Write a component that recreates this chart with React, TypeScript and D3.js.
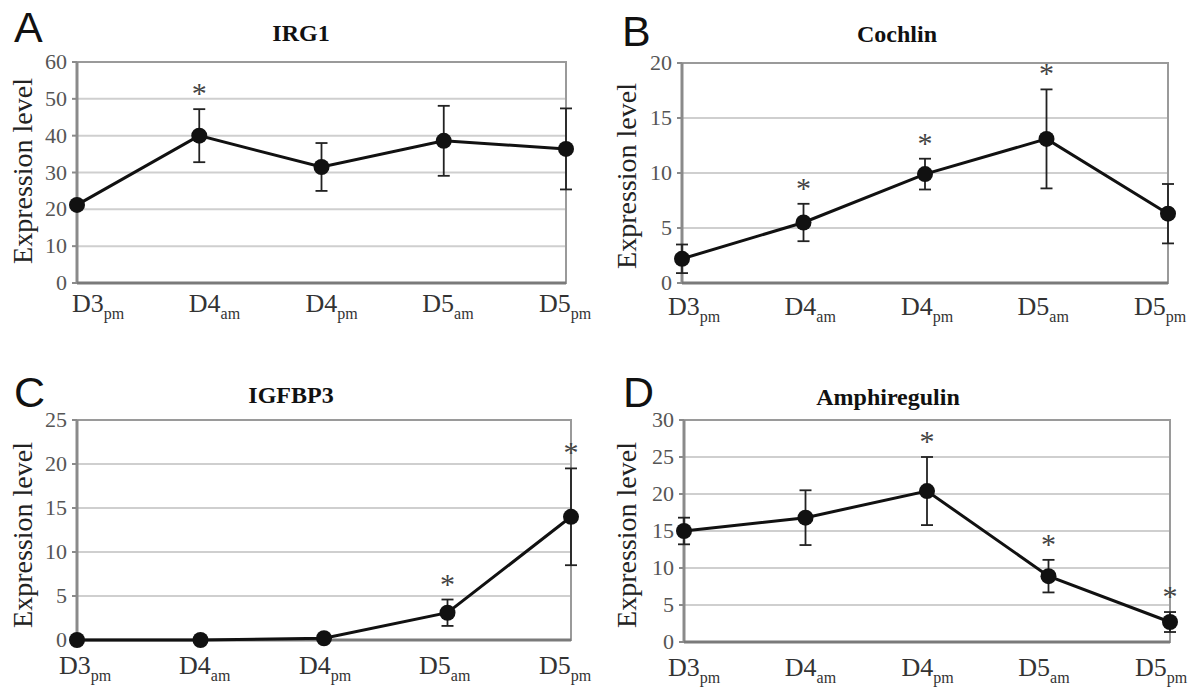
import React from 'react';
import * as d3 from 'd3';

const categories = ['D3pm', 'D4am', 'D4pm', 'D5am', 'D5pm'];
const labelMain = ['D3', 'D4', 'D4', 'D5', 'D5'];
const labelSub = ['pm', 'am', 'pm', 'am', 'pm'];

const irg1Mean = [21.2, 40.0, 31.5, 38.6, 36.4];
const irg1Err = [0.6, 7.2, 6.5, 9.5, 11.0];
const irg1Sig = [false, true, false, false, false];
const irg1Ticks = [0, 10, 20, 30, 40, 50, 60];

const cochlinMean = [2.2, 5.5, 9.9, 13.1, 6.3];
const cochlinErr = [1.3, 1.7, 1.4, 4.5, 2.7];
const cochlinSig = [false, true, true, true, false];
const cochlinTicks = [0, 5, 10, 15, 20];

const igfbp3Mean = [0.0, 0.0, 0.2, 3.1, 14.0];
const igfbp3Err = [0.0, 0.0, 0.1, 1.5, 5.5];
const igfbp3Sig = [false, false, false, true, true];
const igfbp3Ticks = [0, 5, 10, 15, 20, 25];

const amphiMean = [15.0, 16.8, 20.4, 8.9, 2.7];
const amphiErr = [1.8, 3.7, 4.6, 2.2, 1.35];
const amphiSig = [false, false, true, true, true];
const amphiTicks = [0, 5, 10, 15, 20, 25, 30];

const panels = [
  { letter: 'A', title: 'IRG1', mean: irg1Mean, err: irg1Err, sig: irg1Sig, ticks: irg1Ticks },
  { letter: 'B', title: 'Cochlin', mean: cochlinMean, err: cochlinErr, sig: cochlinSig, ticks: cochlinTicks },
  { letter: 'C', title: 'IGFBP3', mean: igfbp3Mean, err: igfbp3Err, sig: igfbp3Sig, ticks: igfbp3Ticks },
  { letter: 'D', title: 'Amphiregulin', mean: amphiMean, err: amphiErr, sig: amphiSig, ticks: amphiTicks },
];

const layouts = [
  { left: 77, right: 566, top: 62, bottom: 283, lo: -5, hi: -27, labY: 312, titleX: 301, titleY: 41, letX: 14, letY: 42, ylabX: 32, ylabY: 171 },
  { left: 682, right: 1168, top: 63, bottom: 283, lo: -14, hi: -34, labY: 315, titleX: 897, titleY: 42, letX: 622, letY: 46, ylabX: 636, ylabY: 176 },
  { left: 77, right: 571, top: 420, bottom: 640, lo: -18, hi: -32, labY: 674, titleX: 291, titleY: 403, letX: 14, letY: 407, ylabX: 32, ylabY: 535 },
  { left: 684, right: 1170, top: 420, bottom: 642, lo: -16, hi: -35, labY: 676, titleX: 888, titleY: 405, letX: 623, letY: 407, ylabX: 636, ylabY: 535 },
];

const SERIF = "'Liberation Serif', 'Times New Roman', 'DejaVu Serif', serif";
const SANS = "'Liberation Sans', Arial, sans-serif";

function Panel({ p, l }: { p: typeof panels[0]; l: typeof layouts[0] }) {
  const x = d3.scalePoint<string>().domain(categories).range([l.left, l.right]);
  const xl = d3.scalePoint<string>().domain(categories).range([l.left + l.lo, l.right + l.hi]);
  const ymax = d3.max(p.ticks) as number;
  const y = d3.scaleLinear().domain([0, ymax]).range([l.bottom, l.top]);
  const pts = categories.map((c, i) => [x(c) as number, y(p.mean[i])] as [number, number]);
  const line = d3.line()(pts) || '';
  const cap = 6;
  const serif = { fontFamily: SERIF };
  return (
    <g>
      <text x={l.letX} y={l.letY} style={{ fontFamily: SANS }} fontSize={43} fill="#111">{p.letter}</text>
      <text x={l.titleX} y={l.titleY} textAnchor="middle" style={serif} fontWeight="bold" fontSize={24} fill="#111">{p.title}</text>
      <text transform={`translate(${l.ylabX},${l.ylabY}) rotate(-90)`} textAnchor="middle" style={serif} fontSize={28} fill="#222">Expression level</text>
      {p.ticks.filter(t => t > 0 && t < ymax).map(t => (
        <line key={'g' + t} x1={l.left} x2={l.right} y1={y(t)} y2={y(t)} stroke="#cfcfcf" strokeWidth={2} />
      ))}
      <rect x={l.left} y={l.top} width={l.right - l.left} height={l.bottom - l.top} fill="none" stroke="#9a9a9a" strokeWidth={2} />
      <line x1={l.left} x2={l.left} y1={l.top} y2={l.bottom} stroke="#8a8a8a" strokeWidth={3} />
      <line x1={l.left} x2={l.right} y1={l.bottom} y2={l.bottom} stroke="#7a7a7a" strokeWidth={3} />
      {p.ticks.map(t => (
        <g key={'t' + t}>
          <line x1={l.left - 5} x2={l.left} y1={y(t)} y2={y(t)} stroke="#8a8a8a" strokeWidth={2} />
          <text x={l.left - 10} y={y(t) + 7} textAnchor="end" style={serif} fontSize={22} fill="#555">{t}</text>
        </g>
      ))}
      {categories.map((c, i) => (
        <text key={'x' + c} x={xl(c)} y={l.labY} style={serif} fontSize={26} fill="#333">
          {labelMain[i]}
          <tspan fontSize={16} dy={7}>{labelSub[i]}</tspan>
        </text>
      ))}
      {categories.map((c, i) => p.err[i] > 0 ? (
        <g key={'e' + c} stroke="#222" strokeWidth={1.8}>
          <line x1={x(c)} x2={x(c)} y1={y(p.mean[i] + p.err[i])} y2={y(p.mean[i] - p.err[i])} />
          <line x1={(x(c) as number) - cap} x2={(x(c) as number) + cap} y1={y(p.mean[i] + p.err[i])} y2={y(p.mean[i] + p.err[i])} />
          <line x1={(x(c) as number) - cap} x2={(x(c) as number) + cap} y1={y(p.mean[i] - p.err[i])} y2={y(p.mean[i] - p.err[i])} />
        </g>
      ) : null)}
      <path d={line} fill="none" stroke="#111" strokeWidth={3} />
      {pts.map((pt, i) => (
        <circle key={'c' + i} cx={pt[0]} cy={pt[1]} r={8} fill="#111" />
      ))}
      {categories.map((c, i) => p.sig[i] ? (
        <text key={'s' + c} x={x(c)} y={y(p.mean[i] + p.err[i]) - 20 + 14} textAnchor="middle" style={serif} fontSize={30} fill="#444">*</text>
      ) : null)}
    </g>
  );
}

export default function App() {
  return (
    <svg width={1189} height={689} style={{ position: 'absolute', left: 0, top: 0, background: '#fff' }}>
      <rect width={1189} height={689} fill="#fff" />
      {panels.map((p, i) => <Panel key={p.letter} p={p} l={layouts[i]} />)}
    </svg>
  );
}
